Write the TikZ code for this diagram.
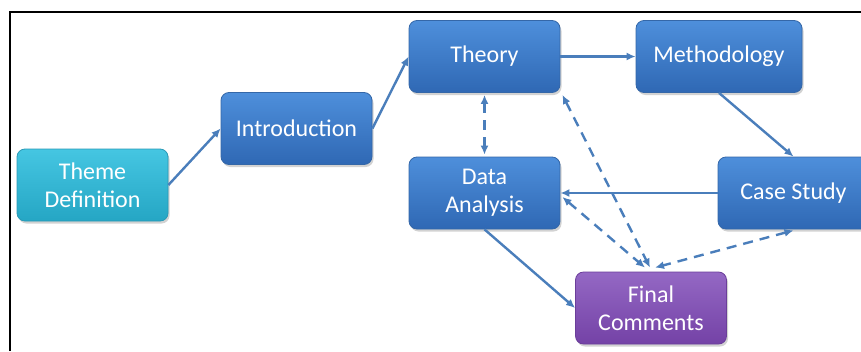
\documentclass[tikz,border=0pt]{standalone}
\usepackage{fontspec}
\setmainfont{Carlito}
\usetikzlibrary{arrows.meta,shadows}
\definecolor{boxtop}{HTML}{4E8FDB}
\definecolor{boxbot}{HTML}{2F68B4}
\definecolor{boxedge}{HTML}{3467A8}
\definecolor{cyantop}{HTML}{45C6E2}
\definecolor{cyanbot}{HTML}{25A6C4}
\definecolor{cyanedge}{HTML}{2A9AB6}
\definecolor{purptop}{HTML}{9468C4}
\definecolor{purpbot}{HTML}{7442A6}
\definecolor{purpedge}{HTML}{6B3E9A}
\definecolor{linkcol}{HTML}{4A7EBB}
\tikzset{
  stepbox/.style={rounded corners=8pt, draw=boxedge, line width=0.8pt,
    top color=boxtop, bottom color=boxbot, text=white,
    font=\fontsize{24}{28}\selectfont, align=center,
    minimum width=151pt, minimum height=72pt, inner sep=0pt,
    drop shadow={shadow xshift=1.5pt, shadow yshift=-2.5pt, opacity=0.35}},
  themebox/.style={stepbox, draw=cyanedge, top color=cyantop, bottom color=cyanbot},
  finalbox/.style={stepbox, draw=purpedge, top color=purptop, bottom color=purpbot},
  link/.style={draw=linkcol, line width=2.4pt, -{Latex[length=9pt,width=8pt]}},
  duallink/.style={link, {Latex[length=9pt,width=8pt]}-{Latex[length=9pt,width=8pt]}, dash pattern=on 10pt off 7pt}
}
\begin{document}
\begin{tikzpicture}[x=1pt,y=-1pt]
\useasboundingbox (0,0) rectangle (861,351);
\fill[white] (0,0) rectangle (861,351);
\begin{scope}
\clip (0,0) rectangle (861,351);
\node[themebox] (theme) at (92.5,185) {Theme\\Definition};
\node[stepbox] (intro) at (296.5,128.5) {Introduction};
\node[stepbox] (theory) at (484.5,56.5) {Theory};
\node[stepbox, minimum width=166pt] (method) at (719,56.5) {Methodology};
\node[stepbox] (data) at (484.5,193) {Data\\Analysis};
\node[stepbox] (case) at (793.5,193) {Case Study};
\node[finalbox] (final) at (651,308) {Final\\Comments};

\draw[link] (theme.east) -- (intro.west);
\draw[link] (intro.east) -- (theory.west);
\draw[link] (theory.east) -- (method.west);
\draw[link] (method.south) -- (case.north);
\draw[link] (case.west) -- (data.east);
\draw[link] (data.south) -- (final.west);
\draw[duallink] ([yshift=-2pt]theory.south) -- ([yshift=2pt]data.north);
\draw[duallink] ([xshift=2pt,yshift=-2pt]theory.south east) -- ([xshift=-1pt,yshift=4pt]final.north);
\draw[duallink] ([xshift=2pt,yshift=-4pt]data.east) -- ([xshift=-6pt,yshift=4pt]final.north);
\draw[duallink] ([yshift=-1pt]case.south) -- ([xshift=4pt,yshift=4pt]final.north);
\end{scope}
\draw[black, line width=2.5pt] (10,351) -- (10,12) -- (861,12);
\end{tikzpicture}
\end{document}
